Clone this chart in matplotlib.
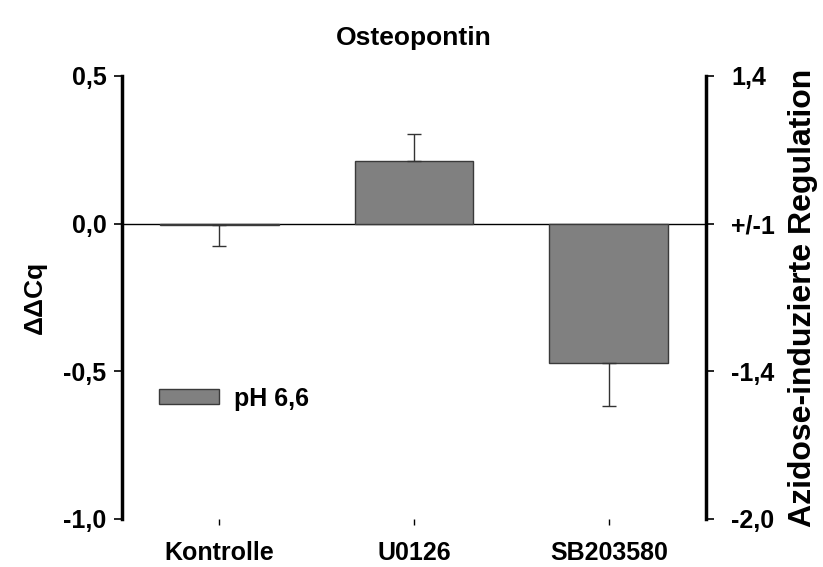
"""Osteopontin: ΔΔCq je Inhibitor (pH 6,6) mit zweiter Achse für Regulation."""
import matplotlib
matplotlib.use("Agg")
import matplotlib.pyplot as plt
import numpy as np
from matplotlib.patches import Patch

plt.rcParams["font.family"] = ["Liberation Sans", "DejaVu Sans"]
plt.rcParams["font.weight"] = "bold"

categories = ["Kontrolle", "U0126", "SB203580"]
ddcq = [-0.005, 0.213, -0.473]
err = [0.07, 0.09, 0.145]
left_ticks = [0.5, 0.0, -0.5, -1.0]
left_labels = ["0,5", "0,0", "-0,5", "-1,0"]
right_labels = ["1,4", "+/-1", "-1,4", "-2,0"]

fig = plt.figure(figsize=(8.23, 5.67), dpi=100)
ax = fig.add_axes([0.148, 0.085, 0.71, 0.781])

x = np.arange(len(categories))
bar_color = "#808080"
ax.bar(x, ddcq, width=0.61, color=bar_color, edgecolor="#3a3a3a", linewidth=1.0, zorder=2)
# Fehlerbalken nur nach außen
lower = [e if v < 0 else 0 for v, e in zip(ddcq, err)]
upper = [e if v >= 0 else 0 for v, e in zip(ddcq, err)]
ax.errorbar(x, ddcq, yerr=[lower, upper], fmt="none", ecolor="#333333",
            elinewidth=1.0, capsize=5, capthick=1.0, zorder=3)
ax.axhline(0, color="black", lw=1.0, zorder=1)

ax.set_xlim(-0.5, 2.5)
ax.set_ylim(-1.0, 0.5)
ax.set_yticks(left_ticks)
ax.set_yticklabels(left_labels)
ax.set_xticks(x)
ax.set_xticklabels(categories)
for s in ("top", "right", "bottom"):
    ax.spines[s].set_visible(False)
ax.spines["left"].set_linewidth(2.5)
ax.tick_params(axis="y", direction="out", length=6, width=1.2, labelsize=18, pad=5)
ax.tick_params(axis="x", direction="out", length=4, width=1.0, labelsize=18, pad=12)
ax.set_ylabel("ΔΔCq", fontsize=19, fontweight="bold", labelpad=12)
ax.set_title("Osteopontin", fontsize=19, fontweight="bold", pad=22)

ax2 = ax.twinx()
ax2.set_ylim(-1.0, 0.5)
ax2.set_yticks(left_ticks)
ax2.set_yticklabels(right_labels)
for s in ("top", "left", "bottom"):
    ax2.spines[s].set_visible(False)
ax2.spines["right"].set_linewidth(2.5)
ax2.tick_params(axis="y", direction="out", length=6, width=1.2, labelsize=18, pad=12)
ax2.set_ylabel("Azidose-induzierte Regulation", fontsize=23, fontweight="bold",
               rotation=90, labelpad=9)

ax.legend(handles=[Patch(facecolor=bar_color, edgecolor="#3a3a3a", label="pH 6,6")],
          loc="upper left", bbox_to_anchor=(0.055, 0.31), frameon=False,
          fontsize=18, handlelength=2.4, handleheight=0.56, handletextpad=0.6,
          borderpad=0.2, borderaxespad=0)

fig.savefig("out.png", dpi=100)
